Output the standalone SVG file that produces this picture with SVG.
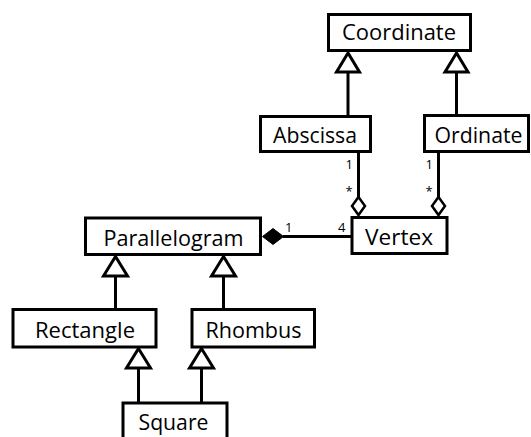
<svg xmlns="http://www.w3.org/2000/svg" width="531" height="437" viewBox="0 0 531 437">
<style>
.box{fill:#fff;stroke:#000;stroke-width:3}
.lbl{font-family:"Open Sans","Noto Sans","Liberation Sans",sans-serif;font-weight:400;font-size:21px;fill:#000;text-anchor:middle}
.m{font-family:"Open Sans","Noto Sans","Liberation Sans",sans-serif;font-weight:400;font-size:13px;fill:#000}
.ln{stroke:#000;stroke-width:3;fill:none}
.gen{fill:#fff;stroke:#000;stroke-width:3;stroke-linejoin:miter}
.agg{fill:#fff;stroke:#000;stroke-width:2.5}
.comp{fill:#000;stroke:#000;stroke-width:1}
</style>
<rect width="531" height="437" fill="#fff"/>
<g id="connectors">
<line class="ln" x1="348" y1="72" x2="348" y2="116"/>
<polygon class="gen" points="348,53 336.5,72 359.5,72"/>
<line class="ln" x1="456.5" y1="72" x2="456.5" y2="115"/>
<polygon class="gen" points="456.5,53 445,72 468,72"/>
<line class="ln" x1="358.5" y1="152" x2="358.5" y2="197"/>
<polygon class="agg" points="358.5,197 365,206 358.5,215 352,206"/>
<text class="m" x="345.5" y="169">1</text>
<text class="m" x="345.5" y="196">*</text>
<line class="ln" x1="438.5" y1="152" x2="438.5" y2="197"/>
<polygon class="agg" points="438.5,197 445,206 438.5,215 432,206"/>
<text class="m" x="425.5" y="169">1</text>
<text class="m" x="425.5" y="196">*</text>
<line class="ln" x1="283" y1="236.5" x2="352" y2="236.5"/>
<polygon class="comp" points="262.5,236.5 273,228.5 283.5,236.5 273,244.5"/>
<text class="m" x="285" y="232">1</text>
<text class="m" x="338" y="232">4</text>
<line class="ln" x1="115.5" y1="276" x2="115.5" y2="309"/>
<polygon class="gen" points="115.5,256.5 103.5,276 127.5,276"/>
<line class="ln" x1="223.5" y1="276" x2="223.5" y2="309"/>
<polygon class="gen" points="223.5,256.5 211.5,276 235.5,276"/>
<line class="ln" x1="138.5" y1="368" x2="138.5" y2="403"/>
<polygon class="gen" points="138.5,348.5 126.5,368 150.5,368"/>
<line class="ln" x1="201.5" y1="368" x2="201.5" y2="403"/>
<polygon class="gen" points="201.5,348.5 189.5,368 213.5,368"/>
</g>
<g id="Coordinate">
<rect class="box" x="328.5" y="14.5" width="142" height="36"/>
<text class="lbl" x="399" y="40" textLength="114" lengthAdjust="spacingAndGlyphs">Coordinate</text>
</g>
<g id="Abscissa">
<rect class="box" x="260.5" y="116.5" width="110" height="35"/>
<text class="lbl" x="315" y="143" textLength="84" lengthAdjust="spacingAndGlyphs">Abscissa</text>
</g>
<g id="Ordinate">
<rect class="box" x="424.5" y="115.5" width="104" height="36"/>
<text class="lbl" x="478.5" y="143" textLength="88" lengthAdjust="spacingAndGlyphs">Ordinate</text>
</g>
<g id="Vertex">
<rect class="box" x="352" y="217.5" width="95" height="36"/>
<text class="lbl" x="399" y="245" textLength="68" lengthAdjust="spacingAndGlyphs">Vertex</text>
</g>
<g id="Parallelogram">
<rect class="box" x="85.5" y="218" width="175" height="36.5"/>
<text class="lbl" x="173.5" y="246" textLength="140" lengthAdjust="spacingAndGlyphs">Parallelogram</text>
</g>
<g id="Rectangle">
<rect class="box" x="13" y="309.5" width="143" height="37.5"/>
<text class="lbl" x="85" y="338" textLength="100" lengthAdjust="spacingAndGlyphs">Rectangle</text>
</g>
<g id="Rhombus">
<rect class="box" x="192" y="309.5" width="122.5" height="37.5"/>
<text class="lbl" x="253.5" y="338" textLength="96" lengthAdjust="spacingAndGlyphs">Rhombus</text>
</g>
<g id="Square">
<rect class="box" x="123" y="403" width="104" height="50"/>
<text class="lbl" x="173.5" y="430" textLength="70" lengthAdjust="spacingAndGlyphs">Square</text>
</g>
</svg>
